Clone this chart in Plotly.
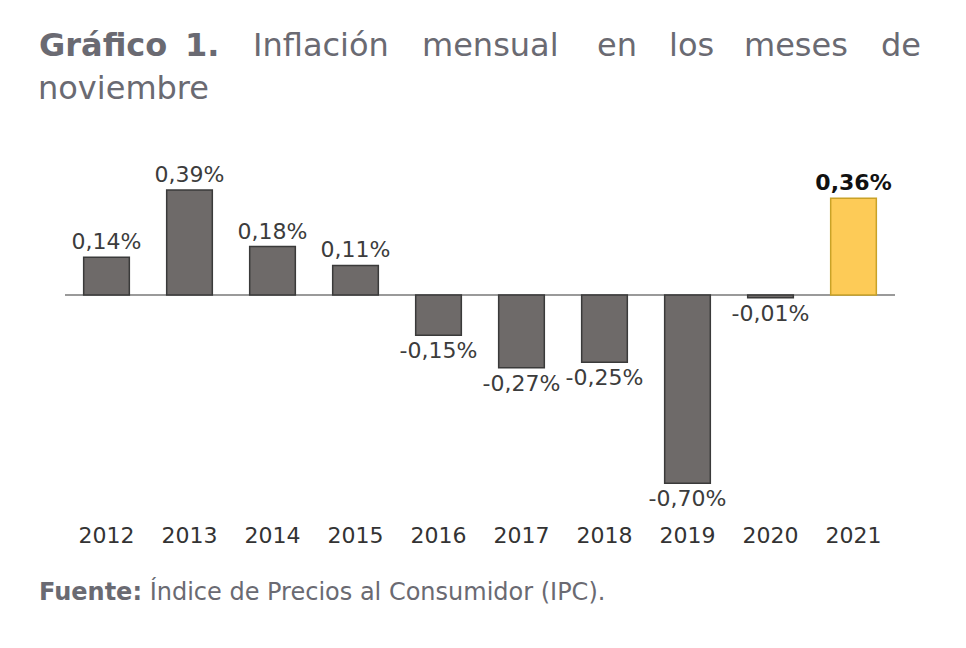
import plotly.graph_objects as go

years = ["2012", "2013", "2014", "2015", "2016", "2017", "2018", "2019", "2020", "2021"]
values = [0.14, 0.39, 0.18, 0.11, -0.15, -0.27, -0.25, -0.70, -0.01, 0.36]
highlight_year = "2021"

title_words = ["Gráfico", "1.", "Inflación", "mensual", "en", "los", "meses", "de"]
title_line2 = "noviembre"
source_bold = "Fuente:"
source_text = " Índice de Precios al Consumidor (IPC)."

FONT = "DejaVu Sans"
OFF = 8  # page body margin
W, H = 966, 648
# plot area in reference-image pixels
L0, R0, T0, B0 = 65, 895, 150, 520
ZERO = 295
PXU = 269
L, R, T, B = L0 - OFF, R0 - OFF, T0 - OFF, B0 - OFF

def px(xp):
    return (xp - L0) / (R0 - L0)

def py(yp):
    return (B0 - yp) / (B0 - T0)

labels = []
colors, lines, tcolors = [], [], []
for y, v in zip(years, values):
    s = f"{v:.2f}".replace(".", ",") + "%"
    if y == highlight_year:
        labels.append(f"<b>{s}</b>")
        colors.append("#fdcb57")
        lines.append("#c9a227")
        tcolors.append("#111111")
    else:
        labels.append(s)
        colors.append("#6e6a69")
        lines.append("#3a3a3a")
        tcolors.append("#3c3c3c")

fig = go.Figure(go.Bar(
    x=years, y=values, width=0.55,
    marker=dict(color=colors, line=dict(color=lines, width=1.5)),
    text=labels, textposition="outside", constraintext="none",
    textfont=dict(family=FONT, size=22, color=tcolors),
    cliponaxis=False, hoverinfo="skip",
))

ann = []
word_pos = [(37, "left"), (202, "center"), (321, "center"), (490, "center"),
            (617, "center"), (691, "center"), (796, "center"), (923, "right")]
for i, (w, (xp, anc)) in enumerate(zip(title_words, word_pos)):
    txt = f"<b>{w}</b>" if i < 2 else w
    ann.append(dict(x=px(xp), y=py(45), xref="paper", yref="paper", text=txt,
                    xanchor=anc, yanchor="middle", showarrow=False,
                    font=dict(family=FONT, size=32, color="#6a6a72")))
ann.append(dict(x=px(36), y=py(88), xref="paper", yref="paper", text=title_line2,
                xanchor="left", yanchor="middle", showarrow=False,
                font=dict(family=FONT, size=32, color="#6a6a72")))
ann.append(dict(x=px(37), y=py(591), xref="paper", yref="paper",
                text=f"<b>{source_bold}</b>{source_text}",
                xanchor="left", yanchor="middle", showarrow=False,
                font=dict(family=FONT, size=24, color="#6a6a72")))

fig.update_layout(
    width=W, height=H,
    margin=dict(l=L, r=W - R, t=T, b=H - B, pad=0),
    paper_bgcolor="white", plot_bgcolor="white",
    showlegend=False,
    annotations=ann,
    xaxis=dict(type="category", showgrid=False, showline=False, zeroline=False,
               ticks="", ticklen=0,
               tickfont=dict(family=FONT, size=22, color="#333333"),
               range=[-0.5, 9.5]),
    yaxis=dict(range=[-(B0 - ZERO) / PXU, (ZERO - T0) / PXU], showgrid=False,
               showticklabels=False, zeroline=True, zerolinecolor="#9a9a9a",
               zerolinewidth=2, showline=False),
)

fig.write_html("out.html")
